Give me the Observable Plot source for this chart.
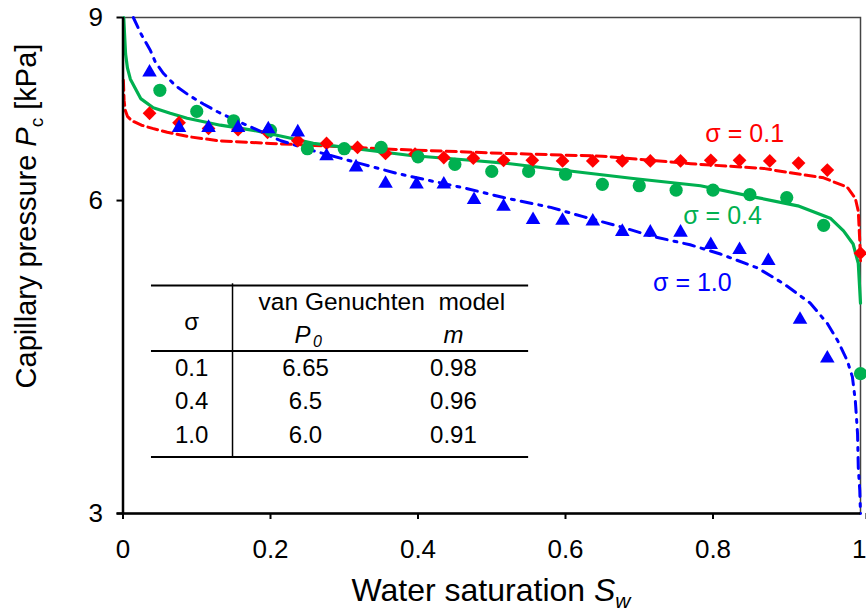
<!DOCTYPE html>
<html><head><meta charset="utf-8">
<script src="https://cdn.jsdelivr.net/npm/d3@7"></script>
<script src="https://cdn.jsdelivr.net/npm/@observablehq/plot@0.6"></script>
<style>
body{margin:0;background:#fff;}
#chart svg{font-family:"Liberation Sans",Arial,sans-serif;}
</style></head><body><div id="chart"></div>
<script>
// axis ticks
const xTicks = [0, 0.2, 0.4, 0.6, 0.8, 1];
const xTickLabels = ["0", "0.2", "0.4", "0.6", "0.8", "1"];
const yTicks = [3, 6, 9];
const yTickLabels = ["3", "6", "9"];

// measured points, sigma = 0.1 (red diamonds)
const meas01X = [0.036,0.076,0.116,0.156,0.196,0.237,0.276,0.318,0.356,0.396,0.435,0.475,0.516,0.555,0.596,0.637,0.677,0.715,0.756,0.797,0.836,0.877,0.916,0.955,1.0];
const meas01Y = [7.28,7.13,7.04,7.02,6.98,6.85,6.81,6.75,6.66,6.65,6.60,6.59,6.56,6.56,6.55,6.55,6.55,6.55,6.55,6.56,6.56,6.55,6.52,6.42,5.34];
// measured points, sigma = 0.4 (green circles)
const meas04X = [0.05,0.1,0.15,0.2,0.25,0.3,0.35,0.4,0.45,0.5,0.55,0.6,0.65,0.7,0.75,0.8,0.85,0.9,0.95,1.0];
const meas04Y = [7.66,7.31,7.16,7.01,6.73,6.73,6.75,6.61,6.50,6.40,6.40,6.36,6.22,6.20,6.14,6.14,6.08,6.04,5.68,4.09];
// measured points, sigma = 1.0 (blue triangles)
const meas10X = [0.036,0.076,0.116,0.156,0.197,0.237,0.276,0.316,0.356,0.398,0.435,0.476,0.516,0.556,0.596,0.637,0.677,0.715,0.756,0.797,0.836,0.875,0.918,0.955];
const meas10Y = [7.97,7.05,7.05,7.05,7.03,6.98,6.62,6.46,6.23,6.22,6.22,6.01,5.92,5.75,5.74,5.73,5.60,5.59,5.59,5.44,5.38,5.25,4.61,4.23];

// model curves
const fit01X = [0.0005,0.0015,0.003,0.006,0.012,0.025,0.04,0.06,0.09,0.13,0.2,0.26,0.37,0.52,0.65,0.77,0.87,0.905,0.95,0.982,0.993,0.997,0.999,1.0];
const fit01Y = [7.83,7.49,7.33,7.23,7.16,7.09,7.04,6.98,6.91,6.85,6.81,6.78,6.72,6.66,6.62,6.51,6.44,6.38,6.31,6.18,6.03,5.86,5.49,5.25];
const fit04X = [0.001,0.002,0.0035,0.006,0.01,0.024,0.041,0.064,0.087,0.132,0.177,0.223,0.258,0.39,0.471,0.525,0.603,0.692,0.783,0.86,0.915,0.959,0.977,0.99,0.997,1.0];
const fit04Y = [9.0,8.7,8.3,8.05,7.85,7.52,7.37,7.28,7.20,7.09,7.01,6.90,6.81,6.63,6.56,6.51,6.41,6.30,6.20,6.04,5.93,5.77,5.61,5.45,5.22,4.78];
const fit10X = [0.014,0.024,0.037,0.044,0.055,0.071,0.089,0.109,0.129,0.15,0.17,0.214,0.258,0.326,0.372,0.421,0.467,0.516,0.58,0.624,0.679,0.719,0.769,0.81,0.86,0.896,0.932,0.955,0.969,0.982,0.989,0.993,0.996,0.997,0.999,1.0];
const fit10Y = [9.0,8.69,8.37,8.15,7.95,7.74,7.58,7.43,7.30,7.18,7.08,6.85,6.70,6.50,6.37,6.26,6.16,6.04,5.91,5.79,5.65,5.54,5.44,5.33,5.17,4.99,4.78,4.57,4.40,4.21,4.06,3.85,3.58,3.32,3.16,3.0];

// labels
const seriesLabels = ["σ = 0.1", "σ = 0.4", "σ = 1.0"];
const tableHeader = ["σ", "van Genuchten  model", "P", "0", "m"];
const tableSigma = ["0.1", "0.4", "1.0"];
const tableP0 = ["6.65", "6.5", "6.0"];
const tableM = ["0.98", "0.96", "0.91"];

const RED = "#ff0000", GREEN = "#00b050", BLUE = "#0000ff";
const zip = (xs, ys) => xs.map((x, i) => ({x, y: ys[i]}));

// table rows (data coordinates of row centres)
const tRows = [4.14, 3.85, 3.57];
const tbl = [0, 1, 2].map(i => ({s: tableSigma[i], p: tableP0[i], m: tableM[i], y: tRows[i]}));

const plot = Plot.plot({
  width: 866, height: 614,
  marginLeft: 122.5, marginRight: 6, marginTop: 17, marginBottom: 101,
  x: {domain: [0, 1]},
  y: {type: "log", domain: [3, 9]},
  style: {fontFamily: '"Liberation Sans", Arial, sans-serif', color: "#000", background: "#fff"},
  marks: [
    Plot.frame({stroke: "#444", strokeWidth: 1.5}),
    // table
    Plot.ruleY([4.97, 4.30, 3.40], {x1: 0.0386, x2: 0.55, stroke: "#000", strokeWidth: 2}),
    Plot.ruleX([0.1485], {y1: 4.99, y2: 3.40, stroke: "#000", strokeWidth: 1.5}),
    Plot.text([tableHeader[0]], {x: () => 0.093, y: () => 4.58, text: d => d, fontSize: 24}),
    Plot.text([tableHeader[1]], {x: () => 0.351, y: () => 4.79, text: d => d, fontSize: 24.5}),
    Plot.text([tableHeader[2]], {x: () => 0.2435, y: () => 4.45, text: d => d, fontSize: 24, fontStyle: "italic"}),
    Plot.text([tableHeader[3]], {x: () => 0.2635, y: () => 4.45, dy: 6, text: d => d, fontSize: 16, fontStyle: "italic"}),
    Plot.text([tableHeader[4]], {x: () => 0.448, y: () => 4.45, text: d => d, fontSize: 24, fontStyle: "italic"}),
    Plot.text(tbl, {x: () => 0.093, y: "y", text: "s", fontSize: 24}),
    Plot.text(tbl, {x: () => 0.2475, y: "y", text: "p", fontSize: 24}),
    Plot.text(tbl, {x: () => 0.448, y: "y", text: "m", fontSize: 24}),
    // model curves
    Plot.line(zip(fit01X, fit01Y), {x: "x", y: "y", stroke: RED, strokeWidth: 3, strokeDasharray: "10,5"}),
    Plot.line(zip(fit04X, fit04Y), {x: "x", y: "y", stroke: GREEN, strokeWidth: 3.2}),
    Plot.line(zip(fit10X, fit10Y), {x: "x", y: "y", stroke: BLUE, strokeWidth: 3, strokeDasharray: "11,7,3,7"}),
    // measured
    Plot.dot(zip(meas01X, meas01Y), {x: "x", y: "y", symbol: "diamond2", r: 6.2, fill: RED, stroke: "none"}),
    Plot.dot(zip(meas04X, meas04Y), {x: "x", y: "y", symbol: "circle", r: 6.6, fill: GREEN, stroke: "none"}),
    Plot.dot(zip(meas10X, meas10Y), {x: "x", y: "y", symbol: "triangle", r: 5.4, fill: BLUE, stroke: "none"}),
    // series labels
    Plot.text([seriesLabels[0]], {x: () => 0.843, y: () => 6.96, text: d => d, fill: RED, fontSize: 25}),
    Plot.text([seriesLabels[1]], {x: () => 0.813, y: () => 5.80, text: d => d, fill: GREEN, fontSize: 25}),
    Plot.text([seriesLabels[2]], {x: () => 0.772, y: () => 5.00, text: d => d, fill: BLUE, fontSize: 25}),
    // axes
    Plot.axisX({ticks: xTicks.slice(0, 5), tickFormat: (d) => xTickLabels[xTicks.indexOf(d)], tickSize: 6, tickPadding: 20, fontSize: 26, label: null, strokeWidth: 2}),
    Plot.axisX({ticks: xTicks.slice(5), tickFormat: (d) => xTickLabels[xTicks.indexOf(d)], tickSize: 6, tickPadding: 20, fontSize: 26, label: null, strokeWidth: 2, textAnchor: "end", dx: 6}),
    Plot.axisY({ticks: yTicks, tickFormat: (d) => yTickLabels[yTicks.indexOf(d)], tickSize: 6, tickPadding: 14, fontSize: 26, label: null, strokeWidth: 2}),
    Plot.ruleX([0], {stroke: "#000", strokeWidth: 2.5}),
    Plot.ruleY([3], {x1: -0.008, x2: 1, stroke: "#000", strokeWidth: 2.5, clip: false})
  ]
});

const svg = d3.select(plot);
// x axis title
const xt = svg.append("text")
  .attr("x", 491).attr("y", 601)
  .attr("text-anchor", "middle")
  .attr("font-size", 32)
  .attr("fill", "#000");
xt.append("tspan").text("Water saturation ");
xt.append("tspan").attr("font-style", "italic").text("S");
xt.append("tspan").attr("font-size", 21).attr("font-style", "italic").attr("dy", 7).text("w");

// y axis title
const yt = svg.append("text")
  .attr("transform", "translate(36,216) rotate(-90)")
  .attr("text-anchor", "middle")
  .attr("font-size", 29)
  .attr("fill", "#000");
yt.append("tspan").text("Capillary pressure ");
yt.append("tspan").attr("font-style", "italic").text("P");
yt.append("tspan").attr("font-size", 19).attr("dy", 7).text("c");
yt.append("tspan").attr("dy", -7).text(" [kPa]");

document.getElementById("chart").appendChild(plot);
</script>
</body></html>
